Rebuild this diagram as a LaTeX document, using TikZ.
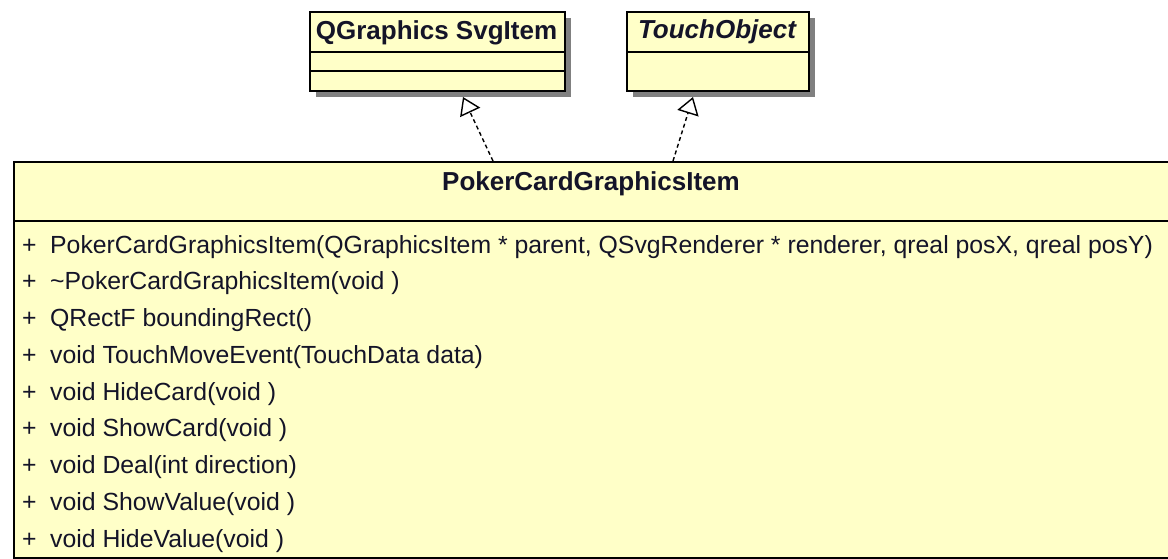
\documentclass[tikz,border=0pt]{standalone}
\usepackage{fontspec}
\setmainfont{Liberation Sans}
\usetikzlibrary{arrows.meta}
\definecolor{umlfill}{RGB}{255,255,200}
\definecolor{umlshadow}{RGB}{128,128,128}
\definecolor{umltext}{RGB}{20,20,40}
\begin{document}
\begin{tikzpicture}[x=1pt,y=-1pt,
  umlbox/.style={draw=black, line width=1.6pt, fill=umlfill, anchor=north west, inner sep=0pt},
  divider/.style={line width=1.6pt},
  rowtext/.style={anchor=base west, inner sep=0pt, text=umltext, font=\fontsize{24.8}{28}\selectfont},
  titletext/.style={anchor=base, inner sep=0pt, text=umltext, font=\fontsize{26}{30}\selectfont\bfseries},
  realize/.style={line width=1.4pt, dash pattern=on 4pt off 3pt,
    -{Triangle[open,length=17pt,width=22pt,line width=1.4pt]}}
]
\useasboundingbox (0,0) rectangle (1168,559);
\clip (0,0) rectangle (1168,559);
\fill[white] (0,0) rectangle (1168,559);

% QGraphicsSvgItem
\fill[umlshadow] (316,18) rectangle (571,97);
\node[umlbox, minimum width=255pt, minimum height=79pt] (svg) at (309,11) {};
\draw[divider] (309,52) -- (564,52);
\draw[divider] (309,71) -- (564,71);
\node[titletext] (svgname) at (436.5,40) {QGraphics SvgItem};

% TouchObject
\fill[umlshadow] (633,18) rectangle (815,97);
\node[umlbox, minimum width=182pt, minimum height=79pt] (touch) at (626,11) {};
\draw[divider] (626,52) -- (808,52);
\node[titletext] (touchname) at (717,39) {\itshape TouchObject};

% PokerCardGraphicsItem
\node[umlbox, minimum width=1170pt, minimum height=396pt] (card) at (13,161) {};
\draw[divider] (13,221) -- (1183,221);
\node[titletext] (cardname) at (591,191) {PokerCardGraphicsItem};

\foreach \i/\t in {0/{PokerCardGraphicsItem(QGraphicsItem * parent, QSvgRenderer * renderer, qreal posX, qreal posY)},
                   1/{\textasciitilde PokerCardGraphicsItem(void )},
                   2/{QRectF boundingRect()},
                   3/{void TouchMoveEvent(TouchData data)},
                   4/{void HideCard(void )},
                   5/{void ShowCard(void )},
                   6/{void Deal(int direction)},
                   7/{void ShowValue(void )},
                   8/{void HideValue(void )}}{
  \node[rowtext] (row\i) at (22,{253+36.75*\i}) {\makebox[28pt][l]{+}\t};
}

% realizations
\coordinate (a1s) at (493,161);
\coordinate (a1e) at (463,97);
\coordinate (a2s) at (673,161);
\coordinate (a2e) at (693,97);
\draw[realize] (a1s) -- (a1e);
\draw[realize] (a2s) -- (a2e);
\end{tikzpicture}
\end{document}
